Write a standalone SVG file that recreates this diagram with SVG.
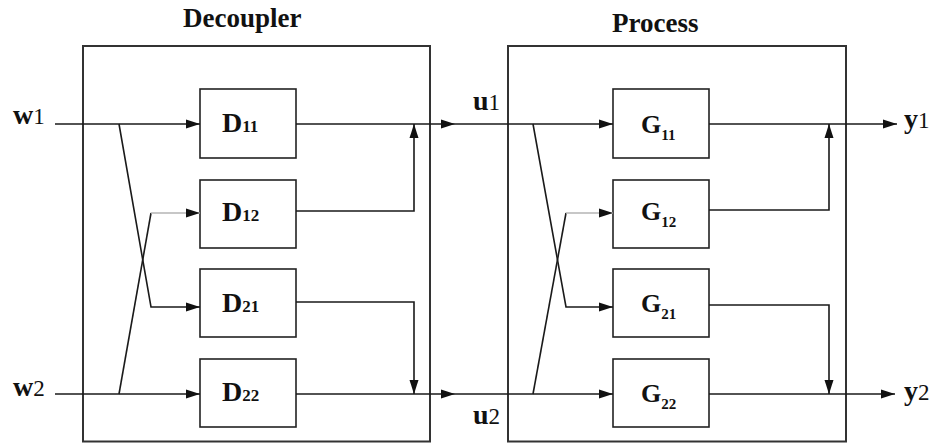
<svg xmlns="http://www.w3.org/2000/svg" width="939" height="443" viewBox="0 0 939 443">
<defs>
<marker id="arr" markerWidth="14" markerHeight="10" refX="14" refY="5" orient="auto" markerUnits="userSpaceOnUse">
<path d="M0,0.5 L14,5 L0,9.5 z" fill="#111"/>
</marker>
<style>
.frame{fill:none;stroke:#333;stroke-width:2}
.blk{fill:#fff;stroke:#222;stroke-width:1.6}
.ln{fill:none;stroke:#1a1a1a;stroke-width:1.6}
.lt{fill:none;stroke:#b5b5b5;stroke-width:1.4}
.t{font-family:"Liberation Serif","Times New Roman",serif;fill:#111}
.title{font-size:27px;font-weight:bold}
.nm{font-size:28px;font-weight:bold}
.gn{font-size:26px;font-weight:bold}
.sd{font-size:17px;font-weight:bold}
.sg{font-size:15px;font-weight:bold}
.lb{font-size:28px;font-weight:bold}
.ls{font-size:23px;font-weight:normal}
</style>
</defs>
<rect width="939" height="443" fill="#fff"/>

<g id="decoupler">
<rect class="frame" x="83" y="46" width="347" height="395.5"/>
<text class="t title" x="183" y="27">Decoupler</text>
</g>
<g id="process">
<rect class="frame" x="508" y="46" width="338" height="395.5"/>
<text class="t title" x="612" y="32">Process</text>
</g>

<g id="D11"><rect class="blk" x="200" y="89" width="96" height="69"/><text class="t nm" x="222" y="132">D<tspan class="sd">11</tspan></text></g>
<g id="D12"><rect class="blk" x="200" y="180" width="96" height="68"/><text class="t nm" x="222" y="221">D<tspan class="sd">12</tspan></text></g>
<g id="D21"><rect class="blk" x="200" y="269" width="96" height="68"/><text class="t nm" x="222" y="312">D<tspan class="sd">21</tspan></text></g>
<g id="D22"><rect class="blk" x="200" y="359" width="96" height="68"/><text class="t nm" x="222" y="401">D<tspan class="sd">22</tspan></text></g>

<g id="G11"><rect class="blk" x="613" y="89" width="96" height="69"/><text class="t gn" x="641" y="133">G<tspan class="sg" dy="7">11</tspan></text></g>
<g id="G12"><rect class="blk" x="613" y="180" width="96" height="68"/><text class="t gn" x="641" y="220">G<tspan class="sg" dy="7">12</tspan></text></g>
<g id="G21"><rect class="blk" x="613" y="269" width="96" height="68"/><text class="t gn" x="641" y="312">G<tspan class="sg" dy="7">21</tspan></text></g>
<g id="G22"><rect class="blk" x="613" y="359" width="96" height="68"/><text class="t gn" x="641" y="402">G<tspan class="sg" dy="7">22</tspan></text></g>

<g id="labels">
<text class="t lb" x="13" y="124">w<tspan class="ls">1</tspan></text>
<text class="t lb" x="13" y="396">w<tspan class="ls">2</tspan></text>
<text class="t lb" x="473" y="110">u<tspan class="ls">1</tspan></text>
<text class="t lb" x="473" y="424">u<tspan class="ls">2</tspan></text>
<text class="t lb" x="904" y="128">y<tspan class="ls">1</tspan></text>
<text class="t lb" x="904" y="400">y<tspan class="ls">2</tspan></text>
</g>

<g id="connectors">
<path class="ln" d="M55,124 H200" marker-end="url(#arr)"/>
<path class="ln" d="M119,124 L151,307 H200" marker-end="url(#arr)"/>
<path class="ln" d="M55,394 H200" marker-end="url(#arr)"/>
<path class="ln" d="M119,394 L151,213"/>
<path class="lt" d="M151,213 H200" marker-end="url(#arr)"/>
<path class="ln" d="M296,124 H455" marker-end="url(#arr)"/>
<path class="ln" d="M455,124 H613" marker-end="url(#arr)"/>
<path class="ln" d="M296,211 H414 V124" marker-end="url(#arr)"/>
<path class="ln" d="M296,302 H414 V394" marker-end="url(#arr)"/>
<path class="ln" d="M296,394 H455" marker-end="url(#arr)"/>
<path class="ln" d="M455,394 H613" marker-end="url(#arr)"/>
<path class="ln" d="M533,124 L566,307 H613" marker-end="url(#arr)"/>
<path class="ln" d="M533,394 L566,213"/>
<path class="lt" d="M566,213 H613" marker-end="url(#arr)"/>
<path class="ln" d="M709,124 H897" marker-end="url(#arr)"/>
<path class="ln" d="M709,210 H829 V124" marker-end="url(#arr)"/>
<path class="ln" d="M709,305 H829 V394" marker-end="url(#arr)"/>
<path class="ln" d="M709,394 H895" marker-end="url(#arr)"/>
</g>
</svg>
